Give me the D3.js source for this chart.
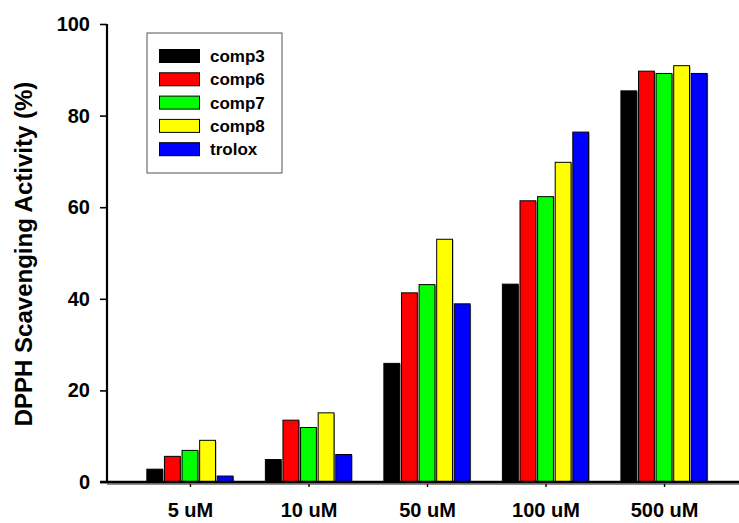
<!DOCTYPE html>
<html>
<head>
<meta charset="utf-8">
<script src="https://cdn.jsdelivr.net/npm/d3@7/dist/d3.min.js"></script>
<style>
  html, body { margin: 0; padding: 0; background: #fff; }
  svg { display: block; }
</style>
</head>
<body>
<svg id="chart" width="739" height="523"></svg>
<script>
// ── data ────────────────────────────────────────────────────────────────
var doses   = ['5 uM', '10 uM', '50 uM', '100 uM', '500 uM'];
var series  = ['comp3', 'comp6', 'comp7', 'comp8', 'trolox'];
var colors  = ['#000000', '#ff0000', '#00ff00', '#ffff00', '#0000ff'];
var comp3   = [2.8, 4.9, 25.9, 43.2, 85.4];
var comp6   = [5.6, 13.5, 41.3, 61.4, 89.7];
var comp7   = [6.9, 11.9, 43.1, 62.3, 89.2];
var comp8   = [9.1, 15.1, 53.0, 69.8, 90.9];
var trolox  = [1.3, 6.0, 38.9, 76.4, 89.2];
var yTicks  = [0, 20, 40, 60, 80, 100];

var values = [comp3, comp6, comp7, comp8, trolox];

// ── geometry ────────────────────────────────────────────────────────────
var x0 = 107, y0 = 482, yTop = 24;
var svg = d3.select('#chart');
var font = '"Liberation Sans", Arial, sans-serif';

var x = d3.scalePoint().domain(doses).range([x0, 747]).padding(0.7);
var xi = d3.scaleBand().domain(series).range([-44, 44])
    .paddingInner(0.1).paddingOuter(0.05);
var y = d3.scaleLinear().domain([0, 100]).range([y0, yTop]);

// ── bars ────────────────────────────────────────────────────────────────
var rows = [];
doses.forEach(function (d, di) {
    series.forEach(function (s, si) {
        rows.push({ dose: d, s: s, c: colors[si], v: values[si][di] });
    });
});

var bars = svg.append('g');
// soft gray shadow like the original
bars.selectAll('rect.sh').data(rows).enter().append('rect')
    .attr('class', 'sh')
    .attr('x', function (d) { return x(d.dose) + xi(d.s) + 1; })
    .attr('y', function (d) { return y(d.v) + 1; })
    .attr('width', xi.bandwidth())
    .attr('height', function (d) { return y0 - y(d.v); })
    .attr('fill', '#9a9a9a');
bars.selectAll('rect.b').data(rows).enter().append('rect')
    .attr('class', 'b')
    .attr('x', function (d) { return x(d.dose) + xi(d.s); })
    .attr('y', function (d) { return y(d.v); })
    .attr('width', xi.bandwidth())
    .attr('height', function (d) { return y0 - y(d.v); })
    .attr('fill', function (d) { return d.c; })
    .attr('stroke', '#000').attr('stroke-width', 1);

// ── axes ────────────────────────────────────────────────────────────────
var yAxis = svg.append('g')
    .attr('transform', 'translate(' + x0 + ',0)')
    .call(d3.axisLeft(y).tickValues(yTicks).tickSize(7).tickPadding(10));
yAxis.select('.domain').attr('stroke-width', 2.2).attr('d', 'M0,' + yTop + 'V' + y0);
yAxis.selectAll('.tick line').attr('stroke-width', 1.6);
yAxis.selectAll('.tick text')
    .attr('font-family', font).attr('font-size', '20px')
    .attr('font-weight', 'bold').attr('fill', '#000');

// x axis: thick baseline with a gray shadow
svg.append('line')
    .attr('x1', x0).attr('x2', 739).attr('y1', y0 + 2).attr('y2', y0 + 2)
    .attr('stroke', '#8c8c8c').attr('stroke-width', 2);
var xAxis = svg.append('g')
    .attr('transform', 'translate(0,' + y0 + ')')
    .call(d3.axisBottom(x).tickSize(5).tickPadding(16));
xAxis.select('.domain').attr('stroke-width', 2.6).attr('d', 'M' + (x0 - 7) + ',0H739');
xAxis.selectAll('.tick line').attr('stroke-width', 1.4).attr('y1', 2);
xAxis.selectAll('.tick text')
    .attr('font-family', font).attr('font-size', '20px')
    .attr('font-weight', 'bold').attr('fill', '#000');

// y title
svg.append('text')
    .attr('transform', 'translate(32,254) rotate(-90)')
    .attr('text-anchor', 'middle')
    .attr('font-family', font).attr('font-size', '24px')
    .attr('font-weight', 'bold')
    .text('DPPH Scavenging Activity (%)');

// ── legend ──────────────────────────────────────────────────────────────
var lg = svg.append('g');
lg.append('rect')
    .attr('x', 147).attr('y', 33).attr('width', 135).attr('height', 140)
    .attr('fill', '#fff').attr('stroke', '#555').attr('stroke-width', 1);
series.forEach(function (s, i) {
    var cy = 56 + i * 23.3;
    lg.append('rect')
        .attr('x', 159.5).attr('y', cy - 6.5).attr('width', 40).attr('height', 13)
        .attr('fill', colors[i]).attr('stroke', '#000').attr('stroke-width', 1);
    lg.append('text')
        .attr('x', 210).attr('y', cy).attr('dy', '0.35em')
        .attr('font-family', font).attr('font-size', '17px')
        .attr('font-weight', 'bold')
        .text(s);
});
</script>
</body>
</html>
